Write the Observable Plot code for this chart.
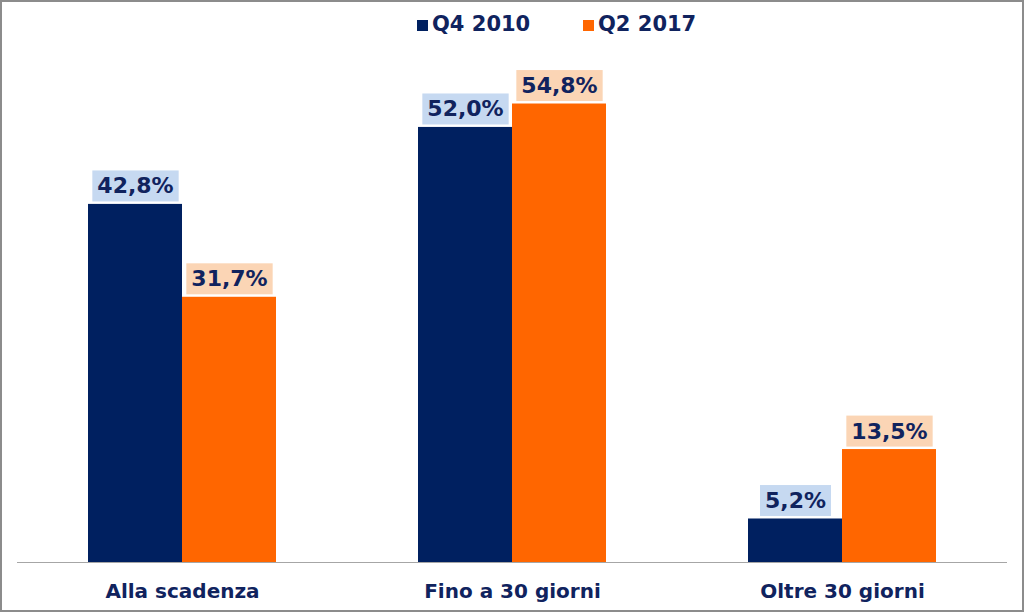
<!DOCTYPE html>
<html>
<head>
<meta charset="utf-8">
<script src="https://cdn.jsdelivr.net/npm/d3@7"></script>
<script src="https://cdn.jsdelivr.net/npm/@observablehq/plot@0.6"></script>
<style>
  body { margin: 0; background: #fff; }
  #wrap { position: relative; width: 1024px; height: 613px; overflow: hidden; font-family: "DejaVu Sans", Verdana, sans-serif; }
  #wrap svg { position: absolute; left: 0; top: 0; }
  #frame { position: absolute; left: 0; top: 0; width: 1024px; height: 612px; box-sizing: border-box; border: 2px solid #8c8c8c; pointer-events: none; }
  .leg { position: absolute; top: 14px; line-height: 21px; font-size: 21px; font-weight: bold; color: #10235e; white-space: nowrap; }
  .sw { display: inline-block; width: 11px; height: 11px; margin-right: 4px; }
</style>
</head>
<body>
<div id="wrap"></div>
<script>
const categories = ["Alla scadenza", "Fino a 30 giorni", "Oltre 30 giorni"];
const series = ["Q4 2010", "Q2 2017"];
const q4_2010 = [42.8, 52.0, 5.2];
const q2_2017 = [31.7, 54.8, 13.5];
const seriesColors = ["#002060", "#ff6600"];
const boxColors = ["#c6d9f1", "#fbd5b5"];
const textColor = "#10235e";

const data = categories.flatMap((c, i) => [
  {cat: c, s: series[0], v: q4_2010[i]},
  {cat: c, s: series[1], v: q2_2017[i]}
]);
const fmt = v => v.toFixed(1).replace(".", ",") + "%";

const labelOpts = {
  fx: "cat", x: "s", y: "v", text: d => fmt(d.v),
  dy: -18, lineAnchor: "middle", fill: textColor,
  fontSize: 22, fontWeight: "bold", fontFamily: "DejaVu Sans, Verdana, sans-serif"
};

const chart = Plot.plot({
  width: 1024, height: 613,
  marginTop: 60, marginBottom: 51, marginLeft: 16, marginRight: 16,
  style: {fontFamily: "DejaVu Sans, Verdana, sans-serif", background: "transparent"},
  fx: {domain: categories, padding: 0, label: null},
  x: {domain: series, paddingInner: 0, paddingOuter: 0.755, axis: null},
  y: {domain: [0, 60], axis: null},
  color: {domain: series, range: seriesColors},
  marks: [
    Plot.barY(data, {fx: "cat", x: "s", y: "v", fill: "s"}),
    Plot.ruleY([0], {stroke: "#a6a6a6", strokeWidth: 1}),
    Plot.text(data.filter(d => d.s === series[0]), labelOpts),
    Plot.text(data.filter(d => d.s === series[1]), labelOpts),
    Plot.axisFx({anchor: "bottom", tickSize: 0, tickPadding: 21, fontSize: 20, fontWeight: "bold", color: textColor, label: null})
  ]
});

const wrap = document.getElementById("wrap");
wrap.appendChild(chart);

// label backgrounds
const groups = chart.querySelectorAll('g[aria-label="text"]');
groups.forEach((g, gi) => {
  g.querySelectorAll("text").forEach(t => {
    const b = t.getBBox();
    const r = document.createElementNS("http://www.w3.org/2000/svg", "rect");
    const padX = 5, padY = 3;
    r.setAttribute("x", b.x - padX);
    r.setAttribute("y", b.y - padY);
    r.setAttribute("width", b.width + 2 * padX);
    r.setAttribute("height", b.height + 2 * padY);
    r.setAttribute("fill", boxColors[gi]);
    if (t.getAttribute("transform")) r.setAttribute("transform", t.getAttribute("transform"));
    t.parentNode.insertBefore(r, t);
  });
});

// legend
const legPos = [417, 583];
series.forEach((s, i) => {
  const d = document.createElement("div");
  d.className = "leg";
  d.style.left = legPos[i] + "px";
  const sw = document.createElement("span");
  sw.className = "sw";
  sw.style.background = seriesColors[i];
  d.appendChild(sw);
  d.appendChild(document.createTextNode(s));
  wrap.appendChild(d);
});

const frame = document.createElement("div");
frame.id = "frame";
wrap.appendChild(frame);
</script>
</body>
</html>
